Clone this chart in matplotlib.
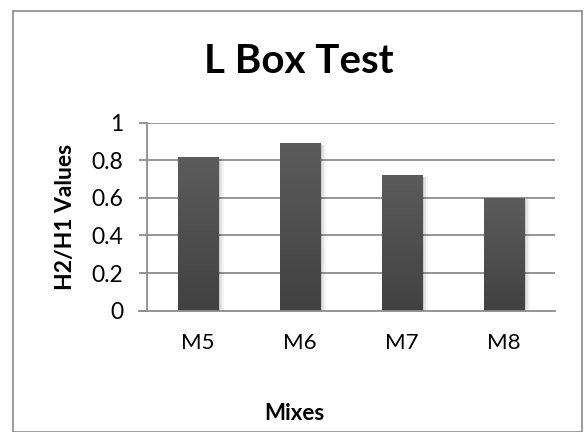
import numpy as np
import matplotlib
matplotlib.use("Agg")
import matplotlib.pyplot as plt
from matplotlib.patches import Rectangle
from matplotlib.colors import LinearSegmentedColormap

plt.rcParams['font.family'] = ['Lato', 'DejaVu Sans']

categories = ["M5", "M6", "M7", "M8"]
values = [0.82, 0.89, 0.72, 0.60]
y_ticks = [0, 0.2, 0.4, 0.6, 0.8, 1]
y_tick_labels = ["0", "0.2", "0.4", "0.6", "0.8", "1"]

fig = plt.figure(figsize=(5.84, 4.32), dpi=100)
ax = fig.add_axes([0.2517, 0.2808, 0.6986, 0.4352])

x = np.arange(len(categories))
bar_w = 0.4
grid_col = "#8c8c8c"

ax.set_xlim(-0.5, len(categories) - 0.5)
ax.set_ylim(0, 1)

for yv in y_ticks[1:]:
    ax.axhline(yv, color=grid_col, lw=1.3, zorder=1)

# soft drop shadow behind each bar
for xi, v in zip(x, values):
    for k, a in enumerate([0.10, 0.07, 0.04]):
        off = 0.012 * (k + 1)
        ax.add_patch(Rectangle((xi - bar_w / 2 + off * 0.5, 0), bar_w + off, v - off * 0.3,
                               facecolor="black", alpha=a, lw=0, zorder=1.5))

bars = ax.bar(x, values, width=bar_w, color="#505050", zorder=2, lw=0)

cmap = LinearSegmentedColormap.from_list("bar", ["#414141", "#5c5c5c"])
grad = np.linspace(0, 1, 256).reshape(-1, 1)
for b, v in zip(bars, values):
    x0 = b.get_x()
    im = ax.imshow(grad, cmap=cmap, origin="lower", aspect="auto",
                   extent=(x0, x0 + bar_w, 0, v), zorder=3)
    im.set_clip_path(b)
ax.set_xlim(-0.5, len(categories) - 0.5)
ax.set_ylim(0, 1)

ax.set_xticks(x)
ax.set_xticklabels(categories, fontsize=16)
ax.set_yticks(y_ticks)
ax.set_yticklabels(y_tick_labels, fontsize=16.5)
ax.tick_params(axis="x", length=0, pad=16)
ax.tick_params(axis="y", length=6, width=1.3, color=grid_col, pad=11)

for s in ["top", "right"]:
    ax.spines[s].set_visible(False)
ax.spines["left"].set_color(grid_col)
ax.spines["left"].set_linewidth(1.3)
ax.spines["bottom"].set_color(grid_col)
ax.spines["bottom"].set_linewidth(1.3)
ax.spines["bottom"].set_bounds(-0.58, len(categories) - 0.5)
ax.spines["bottom"].set_zorder(4)

fig.text(0.512, 0.857, "L Box Test", fontsize=29, fontweight="bold",
         ha="center", va="center")
fig.text(0.504, 0.043, "Mixes", fontsize=16, fontweight="bold",
         ha="center", va="center")
fig.text(0.113, 0.497, "H2/H1 Values", fontsize=16.5, fontweight="bold",
         ha="center", va="center", rotation=90)

fig.patches.append(Rectangle((12.5 / 584, 0.5 / 432), 569 / 584, 421 / 432,
                             transform=fig.transFigure, fill=False,
                             edgecolor="#8a8a8a", lw=1.2))

fig.savefig("out.png", dpi=100)
